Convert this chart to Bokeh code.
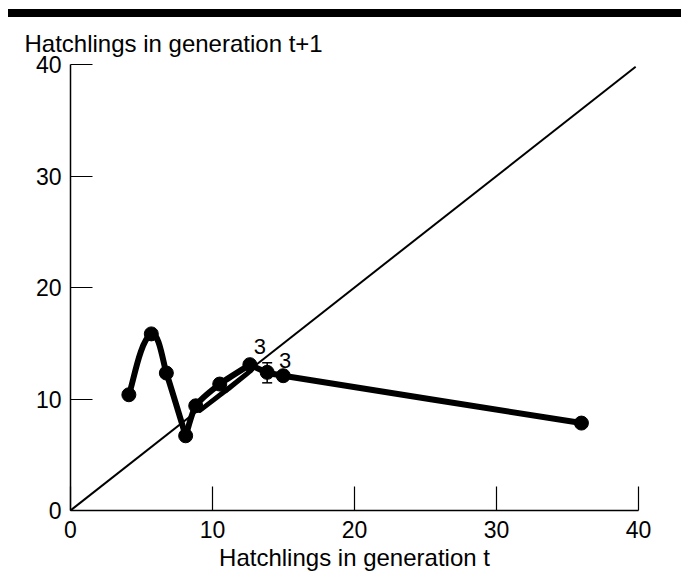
import numpy as np
from bokeh.plotting import figure
from bokeh.layouts import column
from bokeh.models import ColumnDataSource, Whisker, TeeHead, FixedTicker, Range1d, Div
from bokeh.core.properties import value
from bokeh.embed import file_html
from bokeh.resources import INLINE

# ---- data ----
hatch_t = [4.11, 5.69, 6.75, 8.11, 8.82, 10.51, 12.63, 13.85, 14.98, 35.98]
hatch_t1 = [10.38, 15.84, 12.33, 6.70, 9.39, 11.34, 13.08, 12.39, 12.09, 7.84]
corner_idx = [3, 6]          # points where the drawn curve has a corner
# second (return) stroke between points 5 and 7
branch_t = [9.10, 11.00, 12.75]
branch_t1 = [8.95, 10.78, 12.58]
# error bar on point index 7
err_idx = 7
err_low = 11.45
err_high = 13.25
# count labels
label_idx = [6, 8]
label_text = ["3", "3"]
# identity line
ident = [0, 39.8]
x_ticks = [0, 10, 20, 30, 40]
y_ticks = [0, 10, 20, 30, 40]

FONT = "Liberation Sans"
SX, SY = 14.175, 11.125  # px per unit, used only to make smoothing isotropic
TENSION = 0.6


def smooth_segments(xs, ys):
    P = np.column_stack([np.asarray(xs, float) * SX, np.asarray(ys, float) * SY])
    n = len(P)
    T = np.zeros_like(P)
    for i in range(n):
        if i == 0:
            d = P[1] - P[0]
        elif i == n - 1:
            d = P[-1] - P[-2]
        else:
            d = P[i + 1] - P[i - 1]
        T[i] = d / np.linalg.norm(d)
    out = {k: [] for k in ("x0", "y0", "x1", "y1", "cx0", "cy0", "cx1", "cy1")}
    for i in range(n - 1):
        L = np.linalg.norm(P[i + 1] - P[i])
        c0 = P[i] + T[i] * L / 3 * TENSION
        c1 = P[i + 1] - T[i + 1] * L / 3 * TENSION
        out["x0"].append(P[i][0] / SX); out["y0"].append(P[i][1] / SY)
        out["x1"].append(P[i + 1][0] / SX); out["y1"].append(P[i + 1][1] / SY)
        out["cx0"].append(c0[0] / SX); out["cy0"].append(c0[1] / SY)
        out["cx1"].append(c1[0] / SX); out["cy1"].append(c1[1] / SY)
    return out


def merge(a, b):
    return {k: a[k] + b[k] for k in a}


# ---- top bar ----
bar = Div(text="", width=673, height=8, margin=(9, 0, 0, 8),
          styles={"background-color": "black"})

# ---- main plot ----
p = figure(width=681, height=559, toolbar_location=None, output_backend="svg",
           x_range=Range1d(0, 40), y_range=Range1d(0, 40),
           min_border_left=70, min_border_right=43, min_border_top=47,
           min_border_bottom=66, title="Hatchlings in generation t+1")
p.outline_line_color = None
p.grid.visible = False
p.background_fill_color = "white"

p.title.align = "left"
p.title.offset = -46
p.title.standoff = 15
p.title.text_font = FONT
p.title.text_font_size = "24px"
p.title.text_font_style = "normal"
p.title.text_color = "black"

for ax, tks, tin in ((p.xaxis, x_ticks, 24), (p.yaxis, y_ticks, 22)):
    ax.ticker = FixedTicker(ticks=tks)
    ax.major_tick_in = tin
    ax.major_tick_out = 0
    ax.minor_tick_line_color = None
    ax.axis_line_width = 1.5
    ax.axis_line_color = "black"
    ax.major_tick_line_width = 1.2
    ax.major_tick_line_color = "black"
    ax.major_label_text_font = FONT
    ax.major_label_text_font_size = "23px"
    ax.major_label_text_color = "black"
p.yaxis.major_label_standoff = 9
p.xaxis.major_label_standoff = 10
p.xaxis.axis_label = "Hatchlings in generation t"
p.xaxis.axis_label_text_font = FONT
p.xaxis.axis_label_text_font_size = "24px"
p.xaxis.axis_label_text_font_style = "normal"
p.xaxis.axis_label_text_color = "black"
p.xaxis.axis_label_standoff = 3

# identity line
p.line(ident, ident, line_color="black", line_width=2)

# smooth curve split at corners
bounds = [0] + corner_idx + [len(hatch_t) - 1]
segs = None
for a, b in zip(bounds[:-1], bounds[1:]):
    s = smooth_segments(hatch_t[a:b + 1], hatch_t1[a:b + 1])
    segs = s if segs is None else merge(segs, s)
p.bezier(source=ColumnDataSource(segs), x0="x0", y0="y0", x1="x1", y1="y1",
         cx0="cx0", cy0="cy0", cx1="cx1", cy1="cy1",
         line_color="black", line_width=6, line_cap="round")

bs = smooth_segments(branch_t, branch_t1)
p.bezier(source=ColumnDataSource(bs), x0="x0", y0="y0", x1="x1", y1="y1",
         cx0="cx0", cy0="cy0", cx1="cx1", cy1="cy1",
         line_color="black", line_width=4.5, line_cap="round")

p.scatter(hatch_t, hatch_t1, size=14, marker="circle", fill_color="black",
          line_color="black")

# error bar
esrc = ColumnDataSource(dict(base=[hatch_t[err_idx]], lower=[err_low], upper=[err_high]))
p.add_layout(Whisker(source=esrc, base="base", lower="lower", upper="upper",
                     dimension="height", line_color="black", line_width=1.5,
                     upper_head=TeeHead(size=10, line_width=1.5, line_color="black"),
                     lower_head=TeeHead(size=10, line_width=1.5, line_color="black")))

# count labels
lsrc = ColumnDataSource(dict(
    x=[hatch_t[i] for i in label_idx],
    y=[hatch_t1[i] for i in label_idx],
    t=label_text,
    dx=[10, 2],
    dy=[-18, -15],
))
p.text(x="x", y="y", text="t", x_offset="dx", y_offset="dy", source=lsrc,
       text_font=value(FONT), text_font_size="22px", text_color="black",
       text_align="center", text_baseline="middle")

layout = column(bar, p, spacing=0)
open("out.html", "w").write(file_html(layout, INLINE))
